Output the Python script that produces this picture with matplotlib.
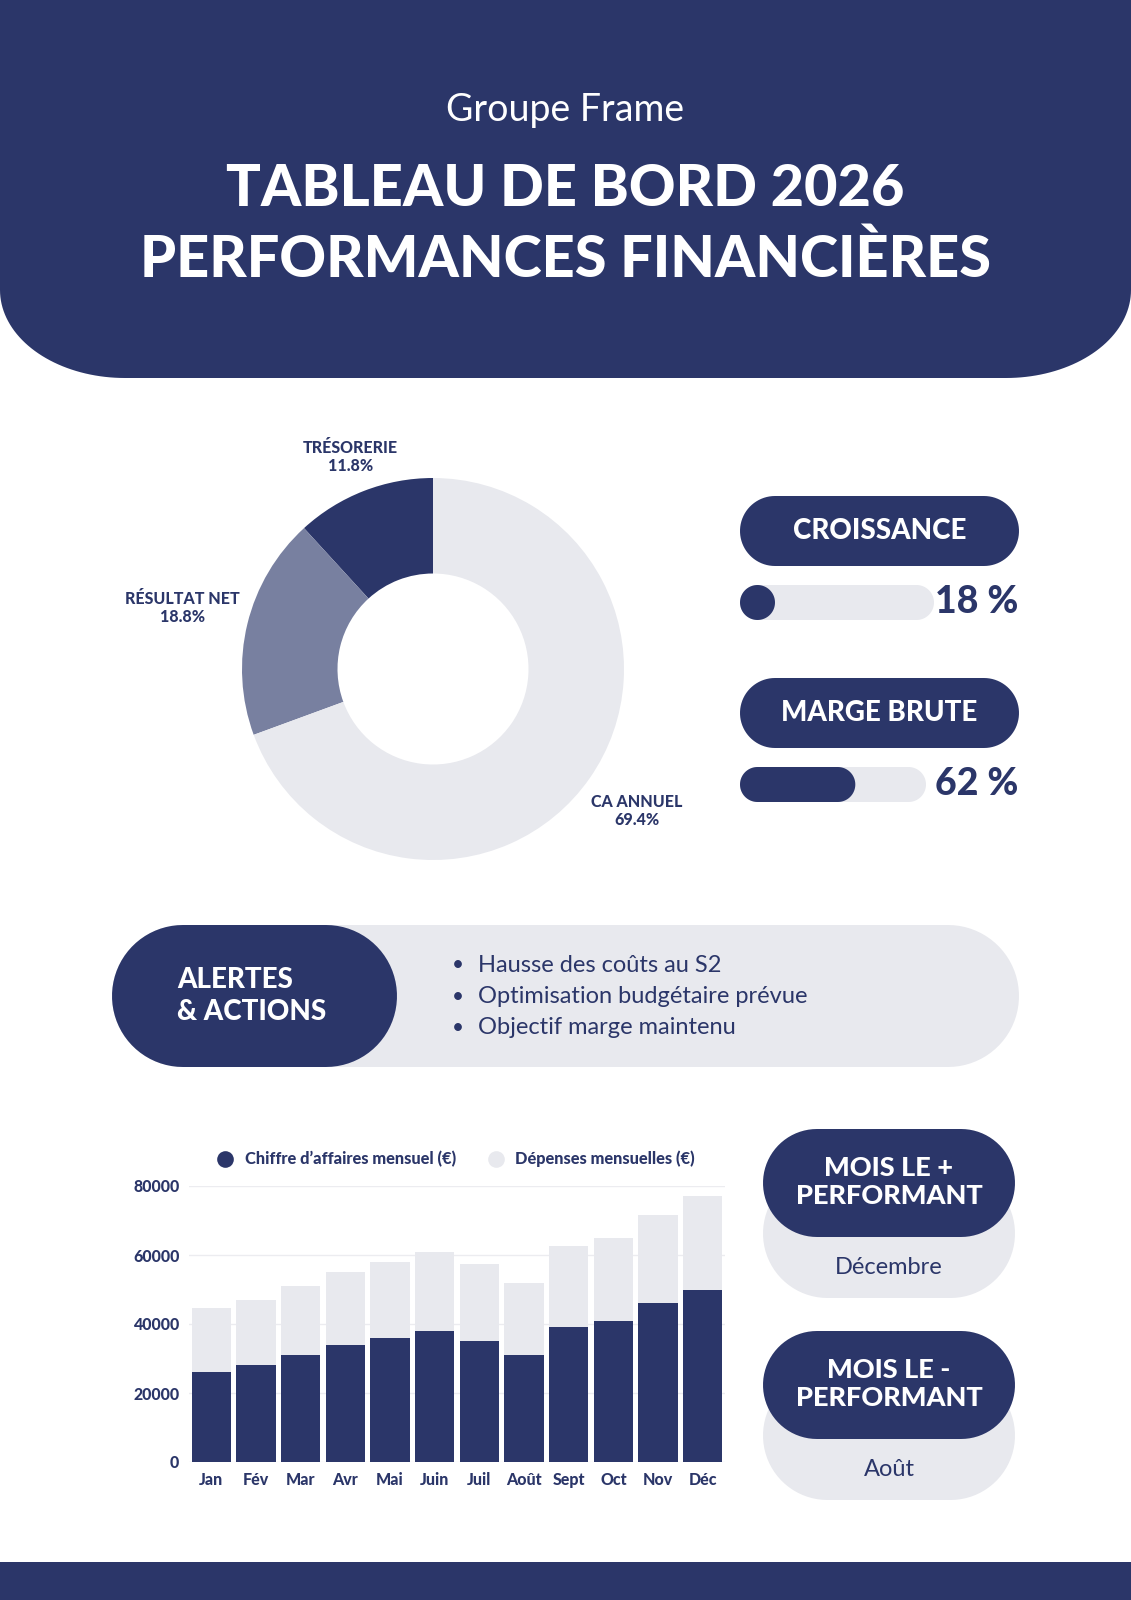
import numpy as np
import matplotlib
matplotlib.use("Agg")
import matplotlib.pyplot as plt
from matplotlib.patches import PathPatch, Rectangle, Polygon
from matplotlib.path import Path
from matplotlib.lines import Line2D

# --- données ---
donut_labels = ["TRÉSORERIE", "RÉSULTAT NET", "CA ANNUEL"]
donut_values = [11.8, 18.8, 69.4]

kpi_names = ["CROISSANCE", "MARGE BRUTE"]
kpi_values = [18, 62]

alerts = ["Hausse des coûts au S2", "Optimisation budgétaire prévue", "Objectif marge maintenu"]

months = ["Jan", "Fév", "Mar", "Avr", "Mai", "Juin", "Juil", "Août", "Sept", "Oct", "Nov", "Déc"]
revenue = [26000, 28000, 31000, 34000, 36000, 38000, 35000, 31000, 39000, 41000, 46000, 50000]
expenses = [18500, 19000, 20000, 21000, 22000, 23000, 22500, 21000, 23500, 24000, 25500, 27000]

best_month = "Décembre"
worst_month = "Août"

NAVY = "#2b3669"
MID = "#7880a0"
LIGHT = "#e8e9ee"
GRID = "#ececf0"

W, H = 1131, 1600
HEAVY = ["Lato", "DejaVu Sans"]
BODY = ["Lato", "DejaVu Sans"]

fig = plt.figure(figsize=(W / 100, H / 100), dpi=100)
fig.patch.set_facecolor("white")

bg = fig.add_axes([0, 0, 1, 1], zorder=0)
bg.set_xlim(0, W)
bg.set_ylim(0, H)
bg.axis("off")


def Y(y):
    return H - y


def pill(x, ytop, w, h, color, z=1):
    # forme "stade" : demi-cercles vrais aux extrémités
    r = min(h / 2, w / 2)
    yc = Y(ytop + h / 2)
    a1 = np.linspace(np.pi / 2, 3 * np.pi / 2, 40)
    a2 = np.linspace(-np.pi / 2, np.pi / 2, 40)
    ry = h / 2
    left = np.c_[x + r + r * np.cos(a1), yc + ry * np.sin(a1)]
    right = np.c_[x + w - r + r * np.cos(a2), yc + ry * np.sin(a2)]
    bg.add_patch(Polygon(np.vstack([left, right]), closed=True, fc=color, ec="none", zorder=z))


# en-tête avec coins arrondis en bas
rx, ry, hb = 125, 88, 378
t = np.linspace(0, np.pi / 2, 40)
left = [(rx - rx * np.cos(a), Y(hb - ry + ry * np.sin(a))) for a in t]
right = [(W - rx + rx * np.sin(a), Y(hb - ry + ry * np.cos(a))) for a in t]
verts = [(0, H)] + left + right + [(W, H), (0, H)]
bg.add_patch(PathPatch(Path(verts), fc=NAVY, ec="none", zorder=1))

bg.text(W / 2, Y(110), "Groupe Frame", color="white", fontsize=27,
        family=BODY, ha="center", va="center", zorder=2)
bg.text(W / 2, Y(189), "TABLEAU DE BORD 2026", color="white", fontsize=41.5,
        family=HEAVY, weight="black", ha="center", va="center", zorder=2)
bg.text(W / 2, Y(260), "PERFORMANCES FINANCIÈRES", color="white", fontsize=41.5,
        family=HEAVY, weight="black", ha="center", va="center", zorder=2)

# pied de page
bg.add_patch(Rectangle((0, 0), W, H - 1562, fc=NAVY, ec="none", zorder=1))

# --- donut ---
cx, cy, R = 433, 669, 191
ax_d = fig.add_axes([(cx - R) / W, (H - cy - R) / H, 2 * R / W, 2 * R / H], zorder=2)
wedges, _ = ax_d.pie(donut_values, colors=[NAVY, MID, LIGHT], startangle=90,
                     counterclock=True, radius=1,
                     wedgeprops=dict(width=0.5, edgecolor="none"))
ax_d.set_xlim(-1, 1)
ax_d.set_ylim(-1, 1)
ax_d.set_aspect("equal")
ax_d.axis("off")

label_dist = [1.19, 1.35, 1.3]
for wdg, lab, val, d in zip(wedges, donut_labels, donut_values, label_dist):
    ang = np.deg2rad((wdg.theta1 + wdg.theta2) / 2)
    ax_d.text(d * np.cos(ang), d * np.sin(ang), f"{lab}\n{val}%", color=NAVY,
              fontsize=11.5, family=HEAVY, weight="black", ha="center", va="center",
              linespacing=1.2, clip_on=False)

# --- KPI ---
kx, kw = 740, 279
for i, (name, val) in enumerate(zip(kpi_names, kpi_values)):
    top = 496 + i * 182
    pill(kx, top, kw, 70, NAVY, z=2)
    bg.text(kx + kw / 2, Y(top + 35), name, color="white", fontsize=20,
            family=HEAVY, weight="black", ha="center", va="center", zorder=3)
    bw = 194 - i * 8
    btop = top + 89
    pill(kx, btop, bw, 35, LIGHT, z=2)
    pill(kx, btop, max(bw * val / 100, 35), 35, NAVY, z=3)
    bg.text(1018, Y(btop + 17), f"{val} %", color=NAVY, fontsize=27,
            family=HEAVY, weight="black", ha="right", va="center", zorder=3)

# --- alertes ---
pill(112, 925, 907, 142, LIGHT, z=2)
pill(112, 925, 285, 142, NAVY, z=3)
bg.text(177, Y(996), "ALERTES\n& ACTIONS", color="white", fontsize=20,
        family=HEAVY, weight="black", ha="left", va="center", linespacing=1.3, zorder=4)
for j, a in enumerate(alerts):
    yy = Y(965 + j * 31.5)
    bg.text(458, yy, "•", color=NAVY, fontsize=15, family=BODY, ha="center", va="center", zorder=4)
    bg.text(478, yy, a, color=NAVY, fontsize=17, family=BODY, ha="left", va="center", zorder=4)

# --- histogramme empilé ---
ax_b = fig.add_axes([189 / W, (H - 1462) / H, (725 - 189) / W, (1462 - 1186) / H], zorder=2)
x = np.arange(len(months))
ax_b.bar(x, revenue, width=0.88, color=NAVY, zorder=3)
ax_b.bar(x, expenses, width=0.88, bottom=revenue, color=LIGHT, zorder=3)
ax_b.set_xlim(-0.5, len(months) - 0.5)
ax_b.set_ylim(0, 80000)
ax_b.set_yticks([0, 20000, 40000, 60000, 80000])
ax_b.set_xticks(x)
ax_b.set_xticklabels(months)
ax_b.grid(axis="y", color=GRID, linewidth=1, zorder=0)
ax_b.set_facecolor("none")
for s in ax_b.spines.values():
    s.set_visible(False)
ax_b.tick_params(length=0, colors=NAVY, labelsize=11.5, pad=7)
for lbl in ax_b.get_xticklabels() + ax_b.get_yticklabels():
    lbl.set_family(HEAVY)
    lbl.set_weight("black")

handles = [Line2D([], [], marker="o", ls="none", ms=12, mfc=NAVY, mec="none"),
           Line2D([], [], marker="o", ls="none", ms=12, mfc=LIGHT, mec="none")]
leg = fig.legend(handles, ["Chiffre d’affaires mensuel (€)", "Dépenses mensuelles (€)"],
                 loc="center", bbox_to_anchor=(452 / W, 1 - 1159 / H), ncol=2,
                 frameon=False, handletextpad=0.2, columnspacing=1.4,
                 prop=dict(family=HEAVY, weight="black", size=11.8))
for txt in leg.get_texts():
    txt.set_color(NAVY)

# --- meilleur / pire mois ---
for k, (title, month) in enumerate([("MOIS LE +\nPERFORMANT", best_month),
                                     ("MOIS LE -\nPERFORMANT", worst_month)]):
    top = 1129 + k * 202
    pill(763, top + 40, 252, 129, LIGHT, z=2)
    pill(763, top, 252, 108, NAVY, z=3)
    bg.text(889, Y(top + 53), title, color="white", fontsize=19.5, family=HEAVY,
            weight="black", ha="center", va="center", linespacing=1.2, zorder=4)
    bg.text(889, Y(top + 139), month, color=NAVY, fontsize=17, family=BODY,
            ha="center", va="center", zorder=4)

fig.savefig("out.png", dpi=100, facecolor="white")
